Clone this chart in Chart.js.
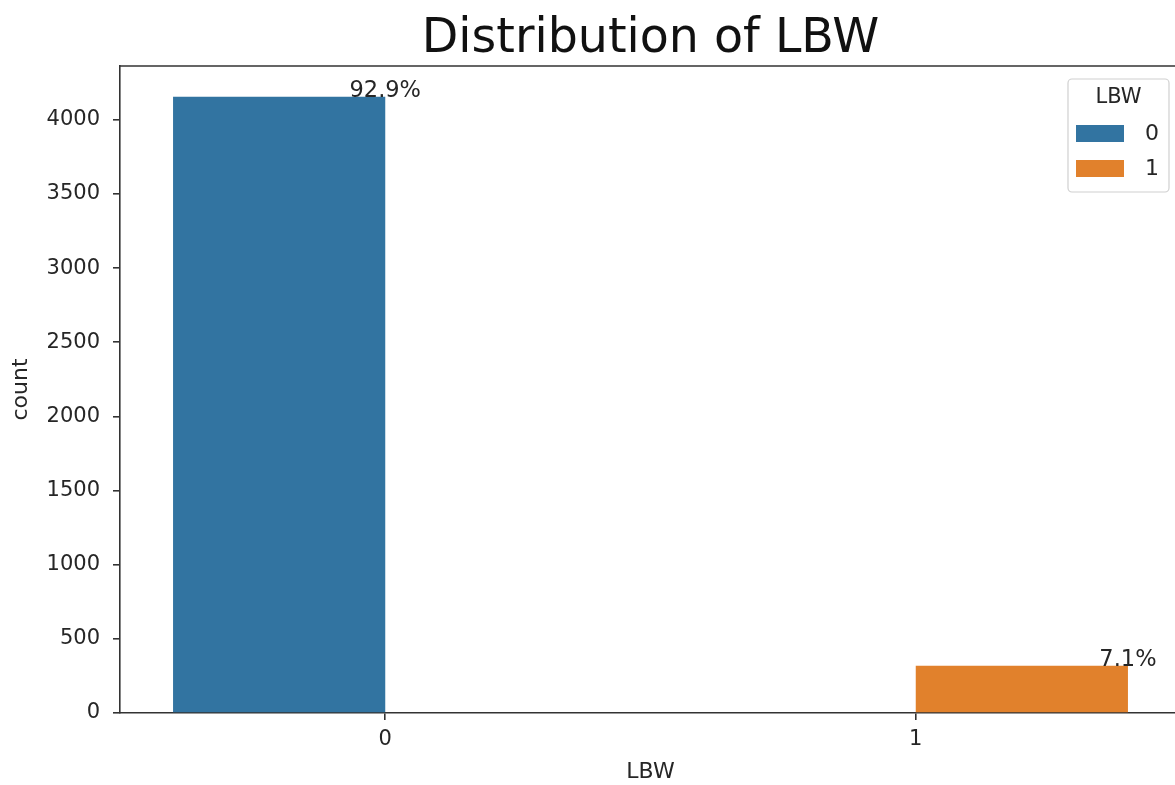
<!DOCTYPE html>
<html>
<head>
<meta charset="utf-8">
<title>Distribution of LBW</title>
<script src="https://cdn.jsdelivr.net/npm/chart.js@4.4.1/dist/chart.umd.min.js"></script>
<style>
    html, body { margin: 0; padding: 0; overflow: hidden; background: #fff; }
    #chartBox { width: 1181px; height: 785px; }
</style>
</head>
<body>
<div id="chartBox"><canvas id="lbwChart" width="1181" height="785"></canvas></div>
<script>
// categories on the x axis and the hue levels
const categories = ['0', '1'];
const hueLevels = ['0', '1'];
// counts for each hue level, per category (null = no bar)
const countsHue0 = [4156, null];
const countsHue1 = [null, 318];
const hueColors = ['#3274a1', '#e1812c'];
const yTickValues = [0, 500, 1000, 1500, 2000, 2500, 3000, 3500, 4000];
const yMax = 4363;
const chartTitle = 'Distribution of LBW';

const textColor = '#262626';
const axisColor = '#333333';

document.addEventListener("DOMContentLoaded", function () {
    const canvas = document.getElementById("lbwChart");

    // percentage text above each bar, centered on its right edge
    const percentLabels = {
        id: 'percentLabels',
        afterDatasetsDraw(chart) {
            const ctx = chart.ctx;
            let total = 0;
            chart.data.datasets.forEach(ds => ds.data.forEach(v => { if (v != null) total += v; }));
            ctx.save();
            ctx.font = '22.5px "DejaVu Sans"';
            ctx.fillStyle = textColor;
            ctx.textAlign = 'center';
            ctx.textBaseline = 'alphabetic';
            chart.data.datasets.forEach((ds, i) => {
                const meta = chart.getDatasetMeta(i);
                ds.data.forEach((v, j) => {
                    if (v == null) return;
                    const bar = meta.data[j];
                    const pct = (100 * v / total).toFixed(1) + '%';
                    ctx.fillText(pct, bar.x + bar.width / 2, bar.y);
                });
            });
            ctx.restore();
        }
    };

    // title over the axes, top spine, legend box inside the axes (upper right)
    const frameAndLegend = {
        id: 'frameAndLegend',
        afterDraw(chart) {
            const ctx = chart.ctx;
            const ca = chart.chartArea;
            ctx.save();
            ctx.fillStyle = '#111';
            ctx.font = '47.5px "DejaVu Sans"';
            ctx.textAlign = 'center';
            ctx.textBaseline = 'alphabetic';
            ctx.fillText(chartTitle, (ca.left + ca.right) / 2, ca.top - 14);

            ctx.strokeStyle = axisColor;
            ctx.lineWidth = 1.6;
            ctx.beginPath();
            ctx.moveTo(ca.left, ca.top);
            ctx.lineTo(ca.right, ca.top);
            ctx.lineTo(ca.right, ca.bottom);
            ctx.stroke();

            const w = 101, h = 113;
            const x0 = ca.right - 12 - w;
            const y0 = ca.top + 13;
            ctx.fillStyle = 'rgba(255,255,255,0.8)';
            ctx.strokeStyle = '#d0d0d0';
            ctx.lineWidth = 1.2;
            ctx.beginPath();
            ctx.roundRect(x0, y0, w, h, 4);
            ctx.fill();
            ctx.stroke();

            ctx.fillStyle = textColor;
            ctx.font = '21px "DejaVu Sans"';
            ctx.textAlign = 'center';
            ctx.textBaseline = 'middle';
            ctx.fillText('LBW', x0 + w / 2, y0 + 19);

            chart.data.datasets.forEach((ds, i) => {
                const py = y0 + 46 + i * 35;
                ctx.fillStyle = ds.backgroundColor;
                ctx.fillRect(x0 + 8, py, 48, 17);
                ctx.fillStyle = textColor;
                ctx.font = '22px "DejaVu Sans"';
                ctx.textAlign = 'left';
                ctx.fillText(ds.label, x0 + 77, py + 9);
            });
            ctx.restore();
        }
    };

    new Chart(canvas, {
        type: 'bar',
        data: {
            labels: categories,
            datasets: [
                { label: hueLevels[0], data: countsHue0, backgroundColor: hueColors[0] },
                { label: hueLevels[1], data: countsHue1, backgroundColor: hueColors[1] }
            ]
        },
        options: {
            responsive: false,
            devicePixelRatio: 1,
            animation: false,
            categoryPercentage: 0.8,
            barPercentage: 1.0,
            layout: { padding: { left: 0, right: 0, top: 66, bottom: 0 } },
            plugins: {
                legend: { display: false },
                tooltip: { enabled: false },
                title: { display: false }
            },
            scales: {
                x: {
                    offset: true,
                    grid: { display: true, drawOnChartArea: false, drawTicks: true, tickLength: 7, offset: false, color: axisColor, lineWidth: 1.6 },
                    border: { display: true, color: axisColor, width: 1.6 },
                    ticks: { color: textColor, font: { family: '"DejaVu Sans"', size: 21 }, padding: 7 },
                    title: {
                        display: true,
                        text: 'LBW',
                        color: textColor,
                        font: { family: '"DejaVu Sans"', size: 22, lineHeight: 1.2 },
                        padding: { top: 0, bottom: 0 }
                    },
                    afterFit(scale) { scale.height = 72; }
                },
                y: {
                    min: 0,
                    max: yMax,
                    grid: { display: true, drawOnChartArea: false, drawTicks: true, tickLength: 7, color: axisColor, lineWidth: 1.6 },
                    border: { display: true, color: axisColor, width: 1.6 },
                    ticks: {
                        color: textColor,
                        font: { family: '"DejaVu Sans"', size: 21 },
                        padding: 13,
                        callback: v => String(v)
                    },
                    afterBuildTicks(scale) {
                        scale.ticks = yTickValues.map(v => ({ value: v }));
                    },
                    title: {
                        display: true,
                        text: 'count',
                        color: textColor,
                        font: { family: '"DejaVu Sans"', size: 22, lineHeight: 1.2 },
                        padding: { top: 8, bottom: 0 }
                    },
                    afterFit(scale) { scale.width = 120; }
                }
            }
        },
        plugins: [percentLabels, frameAndLegend]
    });
});
</script>
</body>
</html>
